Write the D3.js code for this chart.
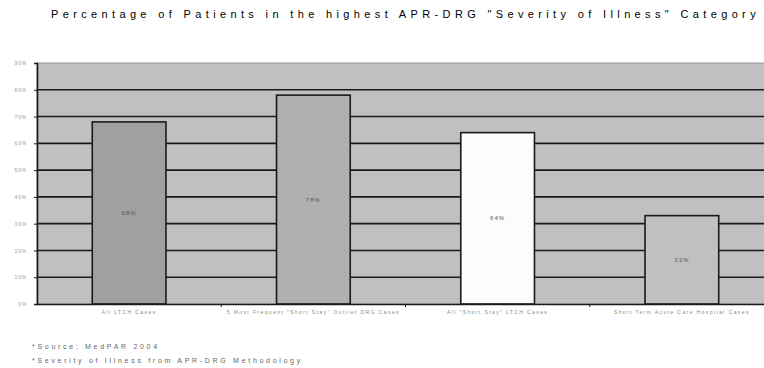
<!DOCTYPE html>
<html>
<head>
<meta charset="utf-8">
<script src="https://cdn.jsdelivr.net/npm/d3@7"></script>
<style>
  body { margin: 0; background: #fff; overflow: hidden; }
  svg { display: block; font-family: "Liberation Sans", Arial, sans-serif; }
</style>
</head>
<body>
<svg id="chart" width="764" height="368"></svg>
<script>
// chart data
var categories = ["All LTCH Cases", "5 Most Frequent \"Short Stay\" Outlier DRG Cases", "All \"Short Stay\" LTCH Cases", "Short Term Acute Care Hospital Cases"];
var values = [0.68, 0.78, 0.64, 0.33];
var barColors = ["#a0a0a0", "#b0b0b0", "#fcfcfc", "#c0c0c0"];
var tickValues = [0, 0.1, 0.2, 0.3, 0.4, 0.5, 0.6, 0.7, 0.8, 0.9];
var notes = ["*Source:  MedPAR 2004", "*Severity of Illness from  APR-DRG Methodology"];

var svg = d3.select("#chart");
var margin = {left: 37, top: 63};
var w = 737, h = 241;

var x = d3.scaleBand().domain(categories).range([0, w]).paddingInner(0.6).paddingOuter(0.3);
var y = d3.scaleLinear().domain([0, 0.9]).range([h, 0]);

// title, squeezed so the whole word fits the window
var title = svg.append("text")
	.attr("x", 51).attr("y", 18)
	.style("font-size", "11px")
	.style("letter-spacing", "4.6px")
	.style("fill", "#000")
	.text("Percentage of Patients in the highest APR-DRG \"Severity of Illness\" Category");
var tw = title.node().getComputedTextLength();
if (51 + tw > 760) {
	var n = title.text().length;
	title.style("letter-spacing", (4.6 - (51 + tw - 760) / n) + "px");
}

var g = svg.append("g").attr("transform", "translate(" + margin.left + "," + margin.top + ")");

g.append("rect")
	.attr("width", w).attr("height", h)
	.style("fill", "#c0c0c0")
	.style("stroke", "#999");

// gridlines
g.selectAll(".grid")
	.data(tickValues.slice(1, -1))
	.enter().append("line")
	.attr("x1", 0).attr("x2", w)
	.attr("y1", function(d){ return y(d); })
	.attr("y2", function(d){ return y(d); })
	.style("stroke", "#1a1a1a")
	.style("stroke-width", 1.6);

var bars = g.selectAll(".bar")
	.data(values)
	.enter().append("g");

bars.append("rect")
	.attr("x", function(d, i){ return x(categories[i]); })
	.attr("y", function(d){ return y(d); })
	.attr("width", x.bandwidth())
	.attr("height", function(d){ return h - y(d); })
	.style("fill", function(d, i){ return barColors[i]; })
	.style("stroke", "#1a1a1a")
	.style("stroke-width", 1.6);

bars.append("text")
	.attr("x", function(d, i){ return x(categories[i]) + x.bandwidth() / 2; })
	.attr("y", function(d){ return (y(d) + h) / 2 + 2; })
	.attr("text-anchor", "middle")
	.style("font-size", "6px")
	.style("letter-spacing", "1px")
	.style("fill", "#555")
	.text(function(d){ return Math.round(d * 100) + "%"; });

// y axis
var yAxis = g.append("g")
	.call(d3.axisLeft(y).tickValues(tickValues).tickFormat(d3.format(".0%")).tickSize(3));
yAxis.select(".domain").style("stroke", "#1a1a1a").style("stroke-width", 1.6);
yAxis.selectAll(".tick line").style("stroke", "#1a1a1a");
yAxis.selectAll("text")
	.attr("x", -10)
	.style("font-size", "5px")
	.style("letter-spacing", "0.8px")
	.style("fill", "#999");

// x axis
var xAxis = g.append("g")
	.attr("transform", "translate(0," + h + ")")
	.call(d3.axisBottom(x).tickSize(0).tickPadding(6));
xAxis.select(".domain").style("stroke", "#1a1a1a").style("stroke-width", 1.6);
xAxis.selectAll("text")
	.style("font-size", "5px")
	.style("letter-spacing", "1.4px")
	.style("fill", "#888");

// tick marks between categories
g.selectAll(".sep")
	.data(categories.slice(1))
	.enter().append("line")
	.attr("x1", function(d){ return x(d) - x.step() * x.paddingInner() / 2; })
	.attr("x2", function(d){ return x(d) - x.step() * x.paddingInner() / 2; })
	.attr("y1", h).attr("y2", h + 3)
	.style("stroke", "#1a1a1a");

// footnotes
svg.selectAll(".note")
	.data(notes)
	.enter().append("text")
	.attr("x", 32)
	.attr("y", function(d, i){ return 349 + i * 14; })
	.style("font-size", "7px")
	.style("letter-spacing", "2.7px")
	.style("fill", "#666")
	.text(function(d){ return d; });
</script>
</body>
</html>
